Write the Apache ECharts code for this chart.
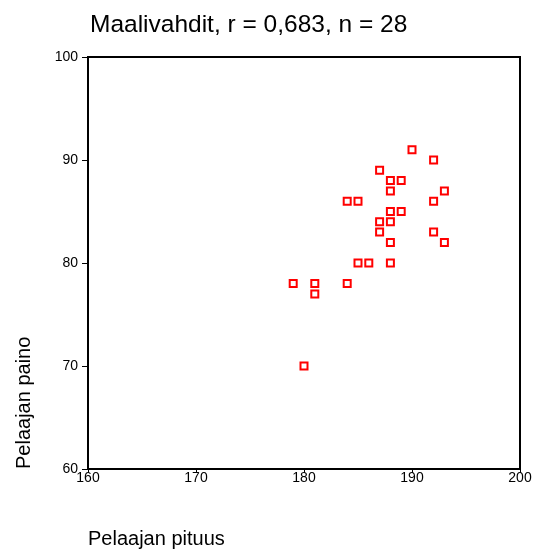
<!DOCTYPE html>
<html>
<head>
<meta charset="utf-8">
<script src="https://cdn.jsdelivr.net/npm/echarts@6/dist/echarts.min.js"></script>
<style>html,body{margin:0;padding:0;background:#fff;}#c{width:541px;height:550px;}</style>
</head>
<body>
<div id="c"></div>
<script>
const heights = [190,192,187,188,189,188,193,184,185,192,188,189,187,188,187,192,188,193,185,186,188,179,181,184,181,180];
const weights = [91,90,89,88,88,87,87,86,86,86,85,85,84,84,83,83,82,82,80,80,80,78,78,78,77,70];
const xTicks = [160,170,180,190,200];
const yTicks = [60,70,80,90,100];
const titleText = 'Maalivahdit, r = 0,683, n = 28';
const xName = 'Pelaajan pituus';
const yName = 'Pelaajan paino';

const font = '"Liberation Sans", Arial, sans-serif';
const chart = echarts.init(document.getElementById('c'), null, {renderer:'canvas'});
chart.setOption({
  animation:false,
  backgroundColor:'#fff',
  title:{text:titleText,left:85,top:8,textStyle:{fontFamily:font,fontSize:24.5,fontWeight:'normal',color:'#000'}},
  grid:{left:88,top:57,width:432,height:412,show:true,borderColor:'#000',borderWidth:2,backgroundColor:'transparent'},
  xAxis:{type:'value',min:xTicks[0],max:xTicks[xTicks.length-1],interval:10,
    axisLine:{show:true,lineStyle:{color:'#000',width:2}},
    axisTick:{show:true,length:4,lineStyle:{color:'#000',width:1}},
    axisLabel:{fontFamily:font,fontSize:14,color:'#000',margin:2},
    splitLine:{show:false}},
  yAxis:{type:'value',min:yTicks[0],max:yTicks[yTicks.length-1],interval:10,
    axisLine:{show:true,lineStyle:{color:'#000',width:2}},
    axisTick:{show:true,length:6,lineStyle:{color:'#000',width:1}},
    axisLabel:{fontFamily:font,fontSize:14,color:'#000',margin:10},
    splitLine:{show:false}},
  graphic:[
    {type:'text',left:88,top:529,style:{text:xName,font:'20px '+font,fill:'#000'}},
    {type:'text',x:14,y:469,rotation:Math.PI/2,style:{text:yName,font:'20px '+font,fill:'#000',align:'left',verticalAlign:'top'}}
  ],
  series:[{type:'scatter',data:heights.map((h,i)=>[h,weights[i]]),symbol:'rect',symbolSize:7,
    itemStyle:{color:'#fff',borderColor:'#f00',borderWidth:2,opacity:1}}]
});
</script>
</body>
</html>
